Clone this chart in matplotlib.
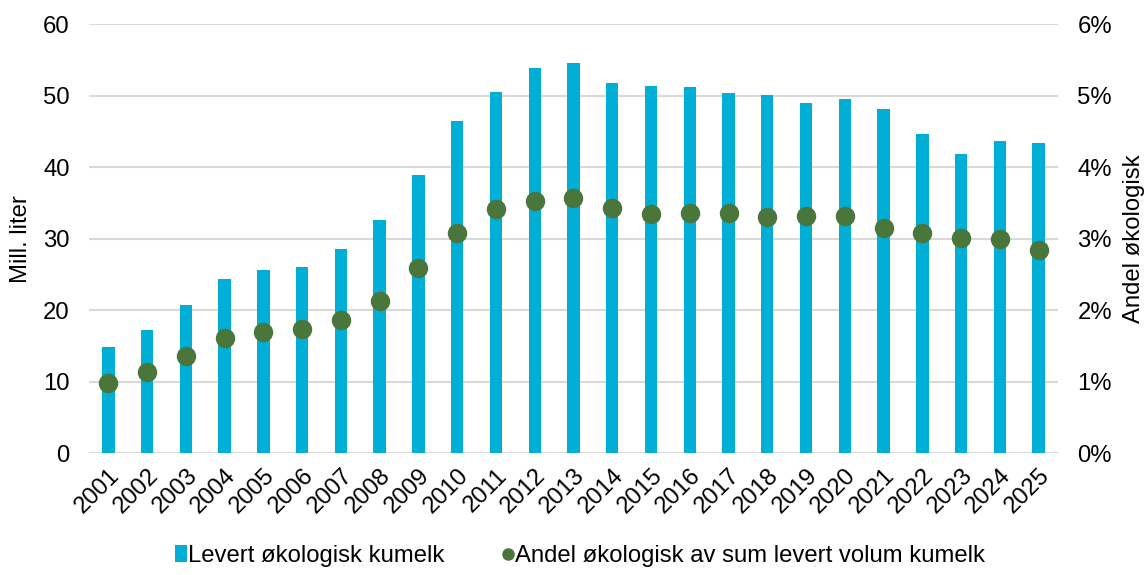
import numpy as np
import matplotlib
matplotlib.use("Agg")
import matplotlib.pyplot as plt
from matplotlib.patches import Patch
from matplotlib.lines import Line2D
from matplotlib.ticker import FuncFormatter

plt.rcParams["font.family"] = ["Liberation Sans", "DejaVu Sans"]

# ----- data -----
years = [str(y) for y in range(2001, 2026)]
volume_mill_l = [14.8, 17.2, 20.7, 24.3, 25.6, 26.0, 28.6, 32.6, 38.9, 46.5,
                 50.5, 53.9, 54.5, 51.8, 51.4, 51.2, 50.3, 50.1, 49.0, 49.6,
                 48.1, 44.7, 41.8, 43.6, 43.4]
share_pct = [0.98, 1.14, 1.36, 1.61, 1.69, 1.74, 1.86, 2.13, 2.59, 3.08,
             3.42, 3.52, 3.57, 3.43, 3.35, 3.36, 3.36, 3.30, 3.31, 3.31,
             3.15, 3.08, 3.01, 2.99, 2.84]

bar_label = "Levert økologisk kumelk"
dot_label = "Andel økologisk av sum levert volum kumelk"

BAR_COLOR = "#00AED6"
DOT_COLOR = "#4A763B"
GRID_COLOR = "#D9D9D9"
FS = 17.2

fig = plt.figure(figsize=(11.48, 5.75), dpi=100)
ax = fig.add_axes([0.0775, 0.212, 0.9216 - 0.0775, 0.958 - 0.212])
ax2 = ax.twinx()

x = np.arange(len(years))
ax.bar(x, volume_mill_l, width=0.32, color=BAR_COLOR, zorder=2)
ax2.plot(x, share_pct, "o", color=DOT_COLOR, markersize=13, zorder=3)

ax.set_xlim(-0.5, len(years) - 0.5)
ax.set_ylim(0, 60)
ax.set_yticks(np.arange(0, 61, 10))
ax2.set_ylim(0, 6)
ax2.set_yticks(np.arange(0, 7, 1))
ax2.yaxis.set_major_formatter(FuncFormatter(lambda v, p: f"{v:.0f}%"))

ax.grid(axis="y", color=GRID_COLOR, linewidth=1.5, zorder=0)
ax.set_axisbelow(True)
for a in (ax, ax2):
    for s in a.spines.values():
        s.set_visible(False)
    a.tick_params(length=0, labelsize=FS, pad=14)

ax.set_xticks(x)
ax.set_xticklabels(years, rotation=45, ha="right", rotation_mode="anchor")
ax.tick_params(axis="x", pad=8)

ax.set_ylabel("Mill. liter", fontsize=FS, labelpad=8)
ax2.set_ylabel("Andel økologisk", fontsize=FS, labelpad=8)

handles = [
    Patch(facecolor=BAR_COLOR, edgecolor="none", label=bar_label),
    Line2D([], [], linestyle="none", marker="o", color=DOT_COLOR,
           markersize=8, label=dot_label),
]
fig.legend(handles=handles, loc="center", bbox_to_anchor=(0.505, 0.033),
           ncol=2, frameon=False, fontsize=FS, handlelength=0.5,
           handleheight=0.7, handletextpad=0.05, columnspacing=2.4)

fig.savefig("out.png", dpi=100)
plt.close(fig)
